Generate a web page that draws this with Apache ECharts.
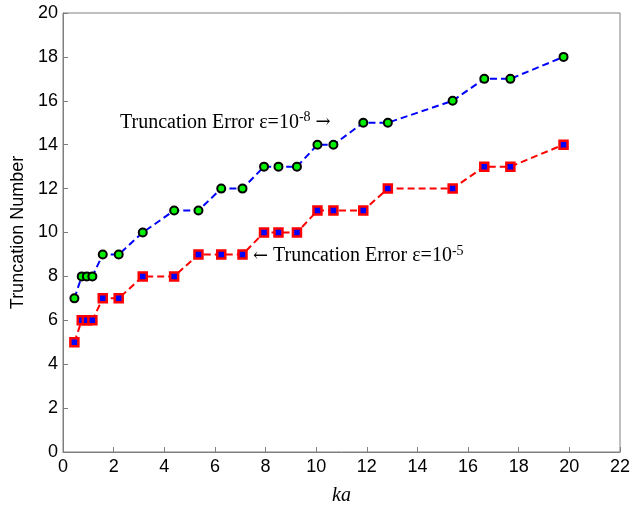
<!DOCTYPE html>
<html>
<head>
<meta charset="utf-8">
<script src="https://cdn.jsdelivr.net/npm/echarts@6/dist/echarts.min.js"></script>
<style>html,body{margin:0;padding:0;background:#fff;}#c{width:634px;height:505px;}</style>
</head>
<body>
<div id="c"></div>
<script>
const kaValues = [0.45, 0.74, 0.94, 1.16, 1.57, 2.20, 3.15, 4.39, 5.35, 6.25, 7.09, 7.94, 8.51, 9.24, 10.05, 10.68, 11.86, 12.83, 15.39, 16.64, 17.67, 19.77];
const eps8Values = [7, 8, 8, 8, 9, 9, 10, 11, 11, 12, 12, 13, 13, 13, 14, 14, 15, 15, 16, 17, 17, 18];
const eps5Values = [5, 6, 6, 6, 7, 7, 8, 8, 9, 9, 9, 10, 10, 10, 11, 11, 11, 12, 12, 13, 13, 14];
const xTicks = [0, 2, 4, 6, 8, 10, 12, 14, 16, 18, 20, 22];
const yTicks = [0, 2, 4, 6, 8, 10, 12, 14, 16, 18, 20];
const annot8 = {x: 2.25, y: 15.0, main: 'Truncation Error ε=10', sup: '-8', arrow: '→'};
const annot5 = {x: 7.5, y: 8.93, arrow: '←', main: 'Truncation Error ε=10', sup: '-5'};

const chart = echarts.init(document.getElementById('c'), null, {renderer: 'canvas'});
const pair = (xs, ys) => xs.map((x, i) => [x, ys[i]]);
const axisColor = '#7f7f7f';
const labelFont = {fontFamily: 'Liberation Sans, Arial, sans-serif', fontSize: 18, color: '#000'};

chart.setOption({
  animation: false,
  backgroundColor: '#fff',
  grid: {left: 63, right: 14, top: 13, bottom: 53, show: true, borderColor: axisColor, borderWidth: 1,
         containLabel: false, outerBoundsMode: 'none'},
  xAxis: {
    type: 'value', min: 0, max: 22, interval: 2,
    axisLine: {show: true, lineStyle: {color: axisColor}},
    axisTick: {show: true, inside: true, length: 5, lineStyle: {color: axisColor}},
    splitLine: {show: false},
    axisLabel: Object.assign({margin: 6, formatter: v => xTicks.includes(v) ? String(v) : ''}, labelFont),
    name: 'ka', nameLocation: 'middle', nameGap: 34,
    nameTextStyle: {fontFamily: 'Liberation Serif, Times New Roman, serif', fontStyle: 'italic', fontSize: 20, color: '#000'}
  },
  yAxis: {
    type: 'value', min: 0, max: 20, interval: 2,
    axisLine: {show: true, lineStyle: {color: axisColor}},
    axisTick: {show: true, inside: true, length: 5, lineStyle: {color: axisColor}},
    splitLine: {show: false},
    axisLabel: Object.assign({margin: 5, formatter: v => yTicks.includes(v) ? String(v) : ''}, labelFont),
    name: 'Truncation Number', nameLocation: 'middle', nameGap: 31, nameRotate: 90,
    nameTextStyle: {fontFamily: 'Liberation Sans, Arial, sans-serif', fontSize: 18, color: '#000'}
  },
  series: [
    {
      type: 'line', data: pair(kaValues, eps8Values),
      lineStyle: {color: '#0000ff', width: 2, type: [7, 4]},
      symbol: 'circle', symbolSize: 8,
      itemStyle: {color: '#00ee00', borderColor: '#000', borderWidth: 2},
      z: 3
    },
    {
      type: 'line', data: pair(kaValues, eps5Values),
      lineStyle: {color: '#ff0000', width: 2, type: [7, 4]},
      symbol: 'rect', symbolSize: 8,
      itemStyle: {color: '#0000ff', borderColor: '#ff0000', borderWidth: 2.5},
      z: 3
    }
  ]
});

const p8 = chart.convertToPixel({gridIndex: 0}, [annot8.x, annot8.y]);
const p5 = chart.convertToPixel({gridIndex: 0}, [annot5.x, annot5.y]);
const serif = 'Liberation Serif, Times New Roman, serif';
const rich = {
  a: {fontFamily: serif, fontSize: 20, fill: '#000', color: '#000'},
  r: {fontFamily: 'DejaVu Serif, serif', fontSize: 18, fill: '#000', color: '#000'},
  s: {fontFamily: serif, fontSize: 14, fill: '#000', color: '#000', verticalAlign: 'top', padding: [0, 0, 10, 0]}
};
chart.setOption({
  graphic: [
    {
      type: 'text', x: p8[0], y: p8[1],
      style: {
        text: '{a|' + annot8.main + '}{s|' + annot8.sup + '}{a| }{r|' + annot8.arrow + '}',
        verticalAlign: 'middle', align: 'left', rich: rich
      }
    },
    {
      type: 'text', x: p5[0], y: p5[1],
      style: {
        text: '{r|' + annot5.arrow + '}{a| ' + annot5.main + '}{s|' + annot5.sup + '}',
        verticalAlign: 'middle', align: 'left', rich: rich
      }
    }
  ]
});
</script>
</body>
</html>
